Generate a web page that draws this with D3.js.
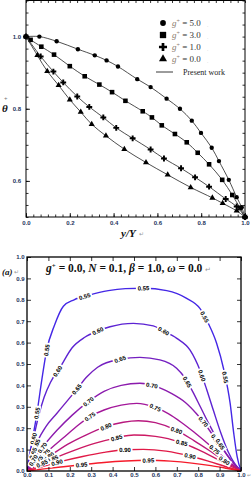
<!DOCTYPE html>
<html>
<head>
<meta charset="utf-8">
<script src="https://cdn.jsdelivr.net/npm/d3@7"></script>
<style>
    body { margin: 0; background: #fff; }
    svg { display: block; }
</style>
</head>
<body>
<div id="chart"></div>
<script>
// ---- top panel data: theta+ against y/Y
const gValues = ["5.0", "3.0", "1.0", "0.0"]
const g5 = [[0, 1.0], [0.061, 1.0], [0.14, 0.987], [0.237, 0.965], [0.314, 0.948], [0.368, 0.934],
    [0.42, 0.917], [0.508, 0.882], [0.569, 0.86], [0.642, 0.828], [0.703, 0.80], [0.757, 0.767],
    [0.799, 0.733], [0.848, 0.692], [0.881, 0.655], [0.926, 0.603], [0.962, 0.555], [0.985, 0.527], [1, 0.5]]
const g3 = [[0, 1.0], [0.021, 0.991], [0.07, 0.972], [0.128, 0.95], [0.2, 0.918], [0.268, 0.89],
    [0.335, 0.867], [0.393, 0.846], [0.454, 0.822], [0.533, 0.793], [0.575, 0.776], [0.62, 0.754],
    [0.68, 0.73], [0.734, 0.707], [0.784, 0.678], [0.836, 0.646], [0.896, 0.603], [0.942, 0.561],
    [0.977, 0.525], [1, 0.5]]
const g1 = [[0, 1.0], [0.067, 0.945], [0.125, 0.903], [0.17, 0.873], [0.234, 0.834], [0.289, 0.805],
    [0.353, 0.776], [0.412, 0.747], [0.487, 0.718], [0.569, 0.687], [0.63, 0.662], [0.708, 0.635],
    [0.772, 0.61], [0.836, 0.584], [0.912, 0.55], [0.962, 0.529], [1, 0.5]]
const g0 = [[0, 1.0], [0.052, 0.948], [0.097, 0.904], [0.149, 0.865], [0.2, 0.825], [0.25, 0.791],
    [0.3, 0.757], [0.365, 0.725], [0.449, 0.688], [0.548, 0.651], [0.647, 0.617], [0.752, 0.582],
    [0.851, 0.553], [0.898, 0.538], [0.962, 0.517], [1, 0.5]]
const xTopTicks = [0, 0.2, 0.4, 0.6, 0.8, 1.0]
const yTopTicks = [0.6, 0.8, 1.0]

// ---- bottom panel data: contour lines of theta
const levels = [0.55, 0.60, 0.65, 0.70, 0.75, 0.80, 0.85, 0.90, 0.95]
const c055 = [[0, 0], [0.004, 0.03], [0.022, 0.13], [0.045, 0.26], [0.069, 0.425], [0.092, 0.565],
    [0.128, 0.68], [0.17, 0.77], [0.22, 0.8], [0.29, 0.822], [0.38, 0.843], [0.46, 0.852],
    [0.544, 0.854], [0.653, 0.843], [0.746, 0.807], [0.808, 0.76], [0.847, 0.69], [0.886, 0.597],
    [0.92, 0.472], [0.949, 0.318], [0.966, 0.177], [0.982, 0.067], [1, 0]]
const c060 = [[0, 0], [0.01, 0.05], [0.03, 0.15], [0.055, 0.26], [0.08, 0.345], [0.11, 0.415],
    [0.155, 0.485], [0.21, 0.575], [0.27, 0.625], [0.333, 0.655], [0.388, 0.674], [0.497, 0.69],
    [0.59, 0.678], [0.637, 0.655], [0.7, 0.62], [0.762, 0.565], [0.808, 0.472], [0.84, 0.38],
    [0.872, 0.28], [0.905, 0.18], [0.94, 0.09], [0.97, 0.035], [1, 0]]
const c065 = [[0, 0], [0.02, 0.06], [0.05, 0.14], [0.09, 0.21], [0.14, 0.27], [0.19, 0.33],
    [0.235, 0.385], [0.28, 0.44], [0.33, 0.485], [0.435, 0.522], [0.528, 0.531], [0.621, 0.519],
    [0.699, 0.48], [0.738, 0.435], [0.775, 0.37], [0.81, 0.3], [0.85, 0.22], [0.9, 0.13],
    [0.95, 0.055], [1, 0]]
const c070 = [[0, 0], [0.03, 0.05], [0.08, 0.12], [0.14, 0.19], [0.21, 0.26], [0.287, 0.324],
    [0.36, 0.372], [0.44, 0.4], [0.528, 0.41], [0.6, 0.397], [0.67, 0.365], [0.74, 0.32],
    [0.79, 0.27], [0.824, 0.23], [0.87, 0.165], [0.92, 0.095], [0.96, 0.042], [1, 0]]
const c075 = [[0, 0], [0.04, 0.04], [0.1, 0.095], [0.17, 0.155], [0.24, 0.215], [0.294, 0.254],
    [0.36, 0.285], [0.44, 0.308], [0.513, 0.316], [0.598, 0.297], [0.66, 0.268], [0.72, 0.228],
    [0.78, 0.182], [0.84, 0.132], [0.9, 0.08], [0.95, 0.038], [1, 0]]
const c080 = [[0, 0], [0.05, 0.035], [0.12, 0.08], [0.2, 0.13], [0.28, 0.17], [0.369, 0.207],
    [0.45, 0.228], [0.52, 0.235], [0.6, 0.226], [0.699, 0.19], [0.78, 0.142], [0.85, 0.097],
    [0.92, 0.05], [0.97, 0.018], [1, 0]]
const c085 = [[0, 0], [0.06, 0.03], [0.14, 0.065], [0.23, 0.1], [0.32, 0.13], [0.419, 0.155],
    [0.5, 0.168], [0.6, 0.162], [0.723, 0.132], [0.8, 0.1], [0.87, 0.065], [0.93, 0.033], [1, 0]]
const c090 = [[0, 0], [0.07, 0.02], [0.16, 0.045], [0.26, 0.068], [0.36, 0.087], [0.458, 0.099],
    [0.544, 0.101], [0.65, 0.093], [0.762, 0.07], [0.85, 0.045], [0.93, 0.02], [1, 0]]
const c095 = [[0, 0], [0.08, 0.01], [0.17, 0.02], [0.255, 0.029], [0.36, 0.04], [0.46, 0.047],
    [0.567, 0.05], [0.67, 0.046], [0.77, 0.037], [0.86, 0.025], [0.93, 0.013], [1, 0]]
const contourLines = [c055, c060, c065, c070, c075, c080, c085, c090, c095]
// label spots: [level, x, y] (snapped onto the line)
const contourLabels = [
    [0.55, 0.27, 0.815], [0.55, 0.544, 0.854], [0.55, 0.832, 0.721], [0.55, 0.092, 0.565],
    [0.55, 0.048, 0.27], [0.55, 0.927, 0.438],
    [0.60, 0.333, 0.65], [0.60, 0.637, 0.651], [0.60, 0.154, 0.46], [0.60, 0.815, 0.445],
    [0.65, 0.435, 0.522], [0.65, 0.235, 0.38], [0.65, 0.738, 0.41],
    [0.70, 0.287, 0.324], [0.70, 0.583, 0.394], [0.70, 0.824, 0.23],
    [0.75, 0.294, 0.254], [0.75, 0.598, 0.293], [0.75, 0.894, 0.12],
    [0.80, 0.369, 0.207], [0.80, 0.699, 0.19], [0.80, 0.93, 0.06],
    [0.85, 0.419, 0.153], [0.85, 0.723, 0.132],
    [0.90, 0.458, 0.101], [0.90, 0.762, 0.07],
    [0.95, 0.255, 0.028], [0.95, 0.567, 0.05],
    // crowded corner labels
    [0.60, 0.035, 0.15], [0.65, 0.05, 0.12], [0.70, 0.07, 0.11], [0.75, 0.08, 0.085],
    [0.80, 0.1, 0.07], [0.85, 0.12, 0.055], [0.90, 0.14, 0.04], [0.65, 0.035, 0.08],
    [0.75, 0.05, 0.05], [0.70, 0.03, 0.05], [0.85, 0.07, 0.035],
    [0.70, 0.9, 0.16], [0.65, 0.94, 0.15]
]
const xBotTicks = [0, 0.1, 0.2, 0.3, 0.4, 0.5, 0.6, 0.7, 0.8, 0.9, 1.0]
const yBotTicks = [0, 0.1, 0.2, 0.3, 0.4, 0.5, 0.6, 0.7, 0.8, 0.9, 1.0]

const W = 251, H = 480
const tickColor = '#24345c'
const svg = d3.select('#chart').append('svg')
    .attr('width', W).attr('height', H)
    .attr('font-family', 'Liberation Sans, Arial, sans-serif')

function styleAxis(g, size) {
    g.select('.domain').remove()
    g.selectAll('line').attr('stroke', '#000').attr('stroke-width', 0.8)
    g.selectAll('text').attr('font-size', size).attr('font-weight', 'bold').attr('fill', tickColor)
}

// ================= top panel =================
const xT = d3.scaleLinear().domain([0, 1]).range([26, 245])
const yT = d3.scaleLinear().domain([0.5, 1.1]).range([217, 0.5])
const topG = svg.append('g')
const fmt = d3.format('.1f')
const minorXT = d3.range(0, 1.0001, 0.2 / 6)
const minorYT = d3.range(0.5, 1.1001, 0.2 / 6)

topG.append('g').attr('transform', 'translate(0,217)')
    .call(d3.axisBottom(xT).tickValues(xTopTicks).tickFormat(fmt).tickSize(-4).tickPadding(4))
    .call(g => styleAxis(g, 6))
topG.append('g').attr('transform', 'translate(0,217)')
    .call(d3.axisBottom(xT).tickValues(minorXT).tickFormat('').tickSize(-2.5)).call(g => styleAxis(g, 6))
topG.append('g').attr('transform', 'translate(0,0.5)')
    .call(d3.axisTop(xT).tickValues(minorXT).tickFormat('').tickSize(-2.5)).call(g => styleAxis(g, 6))
topG.append('g').attr('transform', 'translate(26,0)')
    .call(d3.axisLeft(yT).tickValues(yTopTicks).tickFormat(fmt).tickSize(-4).tickPadding(5))
    .call(g => styleAxis(g, 6))
topG.append('g').attr('transform', 'translate(26,0)')
    .call(d3.axisLeft(yT).tickValues(minorYT).tickFormat('').tickSize(-2.5)).call(g => styleAxis(g, 6))
topG.append('g').attr('transform', 'translate(245,0)')
    .call(d3.axisRight(yT).tickValues(minorYT).tickFormat('').tickSize(-2.5)).call(g => styleAxis(g, 6))

topG.append('rect')
    .attr('x', xT(0)).attr('y', yT(1.1))
    .attr('width', xT(1) - xT(0)).attr('height', yT(0.5) - yT(1.1))
    .attr('fill', 'none').attr('stroke', '#000').attr('stroke-width', 1)

const series = [
    {g: gValues[0], pts: g5, sym: d3.symbolCircle, size: 15, lsize: 26},
    {g: gValues[1], pts: g3, sym: d3.symbolSquare, size: 21, lsize: 40},
    {g: gValues[2], pts: g1, sym: d3.symbolCross, size: 19, lsize: 36},
    {g: gValues[3], pts: g0, sym: d3.symbolTriangle, size: 16, lsize: 28}
]
const lineT = d3.line().x(d => xT(d[0])).y(d => yT(d[1])).curve(d3.curveCatmullRom.alpha(0.5))

series.forEach(s => {
    topG.append('path').attr('d', lineT(s.pts))
        .attr('fill', 'none').attr('stroke', '#222').attr('stroke-width', 0.8)
    topG.append('g').selectAll('path').data(s.pts).join('path')
        .attr('transform', d => `translate(${xT(d[0])},${yT(d[1])})`)
        .attr('d', d3.symbol(s.sym, s.size))
        .attr('fill', '#000')
})

// legend
const legend = topG.append('g').attr('font-family', 'Liberation Serif, serif')
series.forEach((s, i) => {
    const ly = 23 + i * 12
    legend.append('path').attr('transform', `translate(163,${ly})`)
        .attr('d', d3.symbol(s.sym, s.lsize)).attr('fill', '#000')
    const t = legend.append('text').attr('x', 172).attr('y', ly + 3).attr('font-size', 9).attr('fill', '#333')
    t.append('tspan').attr('font-style', 'italic').attr('fill', '#8b7b6e').text('g')
    t.append('tspan').attr('font-size', 6).attr('dy', -3.5).attr('fill', '#8b7b6e').text('+')
    t.append('tspan').attr('dy', 3.5).text(' = ' + s.g)
    legend.append('text').attr('x', 207).attr('y', ly + 4).attr('font-size', 5).attr('fill', '#bbb').text('.')
})
legend.append('line').attr('x1', 156).attr('x2', 173).attr('y1', 72).attr('y2', 72)
    .attr('stroke', '#222').attr('stroke-width', 0.9)
legend.append('text').attr('x', 183).attr('y', 74.5).attr('font-size', 8).attr('fill', '#222')
    .text('Present work')

// axis titles
svg.append('text').attr('x', 2).attr('y', 112)
    .attr('font-family', 'Liberation Serif, serif').attr('font-weight', 'bold')
    .attr('font-style', 'italic').attr('font-size', 11).attr('fill', '#111').text('θ')
svg.append('text').attr('x', 4).attr('y', 100).attr('font-size', 6).attr('fill', '#777').text('+')
svg.append('text').attr('x', 121).attr('y', 237)
    .attr('font-family', 'Liberation Serif, serif').attr('font-weight', 'bold')
    .attr('font-style', 'italic').attr('font-size', 11).attr('fill', '#111').text('y/Y')
svg.append('text').attr('x', 139).attr('y', 236).attr('font-size', 6).attr('fill', '#999').text('↵')

// ================= bottom panel =================
const xB = d3.scaleLinear().domain([0, 1]).range([27, 241])
const yB = d3.scaleLinear().domain([0, 1]).range([471, 257])
const bot = svg.append('g')

bot.append('clipPath').attr('id', 'clipB').append('rect')
    .attr('x', xB(0)).attr('y', yB(1)).attr('width', xB(1) - xB(0)).attr('height', yB(0) - yB(1))

const color = d3.scaleLinear().domain([0.55, 0.75, 0.95]).range(['#4427e6', '#a3179a', '#f51b2b'])
const lineB = d3.line().x(d => xB(d[0])).y(d => yB(d[1])).curve(d3.curveMonotoneX)

const cg = bot.append('g').attr('clip-path', 'url(#clipB)')
contourLines.forEach((pts, i) => {
    cg.append('path').attr('d', lineB(pts))
        .attr('fill', 'none').attr('stroke', color(levels[i])).attr('stroke-width', 1.4)
})

// snap a label onto its contour and take the local direction
function snap(pts, px, py) {
    let best = null
    for (let i = 0; i < pts.length - 1; i++) {
        const ax = xB(pts[i][0]), ay = yB(pts[i][1])
        const bx = xB(pts[i + 1][0]), by = yB(pts[i + 1][1])
        const dx = bx - ax, dy = by - ay
        let t = ((px - ax) * dx + (py - ay) * dy) / (dx * dx + dy * dy)
        t = Math.max(0, Math.min(1, t))
        const qx = ax + t * dx, qy = ay + t * dy
        const dist = (qx - px) ** 2 + (qy - py) ** 2
        if (!best || dist < best.dist) {
            let ang = Math.atan2(dy, dx) * 180 / Math.PI
            if (ang > 90) ang -= 180
            if (ang < -90) ang += 180
            best = {x: qx, y: qy, ang: ang, dist: dist}
        }
    }
    return best
}

const lg = bot.append('g')
contourLabels.forEach(d => {
    const idx = levels.indexOf(d[0])
    const p = snap(contourLines[idx], xB(d[1]), yB(d[2]))
    const g = lg.append('g').attr('transform', `translate(${p.x},${p.y}) rotate(${p.ang})`)
    g.append('rect').attr('x', -7.5).attr('y', -3.2).attr('width', 15).attr('height', 6.4).attr('fill', '#fff')
    g.append('text').attr('text-anchor', 'middle').attr('dy', '0.36em')
        .attr('font-size', 6).attr('font-weight', 'bold').attr('fill', '#000')
        .text(d3.format('.2f')(d[0]))
})

bot.append('g').attr('transform', 'translate(0,471)')
    .call(d3.axisBottom(xB).tickValues(xBotTicks).tickFormat(fmt).tickSize(-4).tickPadding(1.5))
    .call(g => styleAxis(g, 6))
bot.append('g').attr('transform', 'translate(0,257)')
    .call(d3.axisTop(xB).tickValues(xBotTicks).tickFormat('').tickSize(-4)).call(g => styleAxis(g, 6))
bot.append('g').attr('transform', 'translate(27,0)')
    .call(d3.axisLeft(yB).tickValues(yBotTicks).tickFormat(fmt).tickSize(-4).tickPadding(2.5))
    .call(g => styleAxis(g, 6))
bot.append('g').attr('transform', 'translate(241,0)')
    .call(d3.axisRight(yB).tickValues(yBotTicks).tickFormat('').tickSize(-4)).call(g => styleAxis(g, 6))

bot.append('rect')
    .attr('x', xB(0)).attr('y', yB(1)).attr('width', xB(1) - xB(0)).attr('height', yB(0) - yB(1))
    .attr('fill', 'none').attr('stroke', '#000').attr('stroke-width', 1.3)

// panel title
const title = bot.append('text').attr('x', 46).attr('y', 272)
    .attr('font-family', 'Liberation Serif, serif').attr('font-weight', 'bold')
    .attr('font-size', 11.5).attr('fill', '#111')
title.append('tspan').attr('font-style', 'italic').text('g')
title.append('tspan').attr('font-size', 7).attr('dy', -4.5).text('+')
title.append('tspan').attr('dy', 4.5).text(' = 0.0, ')
title.append('tspan').attr('font-style', 'italic').text('N')
title.append('tspan').text(' = 0.1, ')
title.append('tspan').attr('font-style', 'italic').text('β')
title.append('tspan').text(' = 1.0, ')
title.append('tspan').attr('font-style', 'italic').text('ω')
title.append('tspan').text(' = 0.0 ')
title.append('tspan').attr('font-size', 7).attr('font-weight', 'normal').attr('fill', '#999').text('↵')

svg.append('text').attr('x', 2).attr('y', 275)
    .attr('font-family', 'Liberation Serif, serif').attr('font-weight', 'bold')
    .attr('font-style', 'italic').attr('font-size', 9).attr('fill', '#111').text('(a)')
svg.append('text').attr('x', 14).attr('y', 274).attr('font-size', 6).attr('fill', '#999').text('↵')
svg.append('text').attr('x', 247).attr('y', 477).attr('font-size', 4.5).attr('fill', '#999').text('↵')
</script>
</body>
</html>
